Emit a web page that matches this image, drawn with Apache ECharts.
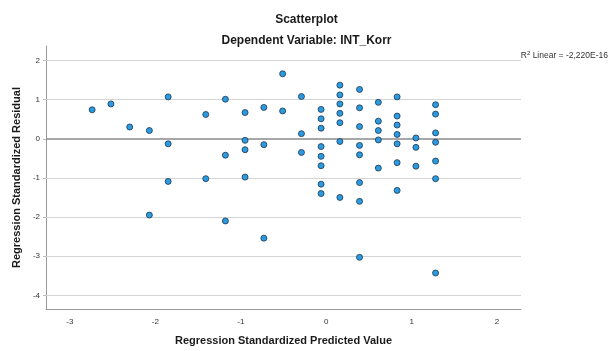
<!DOCTYPE html>
<html>
<head>
<meta charset="utf-8">
<script src="https://cdn.jsdelivr.net/npm/echarts@6/dist/echarts.min.js"></script>
<style>html,body{margin:0;padding:0;background:#fff;}#c{width:613px;height:351px;}</style>
</head>
<body>
<div id="c"></div>
<script>
var titleText = 'Scatterplot';
var subtitleText = 'Dependent Variable: INT_Korr';
var xAxisName = 'Regression Standardized Predicted Value';
var yAxisName = 'Regression Standardized Residual';
var xTicks = [-3, -2, -1, 0, 1, 2];
var yTicks = [-4, -3, -2, -1, 0, 1, 2];

// Predicted value (x) and residual (y), paired
var predicted = [
  -2.74, -2.52, -2.30,
  -2.07, -2.07,
  -1.85, -1.85, -1.85,
  -1.41, -1.41,
  -1.18, -1.18, -1.18,
  -0.95, -0.95, -0.95, -0.95,
  -0.73, -0.73, -0.73,
  -0.51, -0.51,
  -0.29, -0.29, -0.29,
  -0.06, -0.06, -0.06, -0.06, -0.06, -0.06, -0.06, -0.06,
  0.16, 0.16, 0.16, 0.16, 0.16, 0.16, 0.16,
  0.39, 0.39, 0.39, 0.39, 0.39, 0.39, 0.39, 0.39,
  0.61, 0.61, 0.61, 0.61, 0.61,
  0.83, 0.83, 0.83, 0.83, 0.83, 0.83, 0.83,
  1.05, 1.05, 1.05,
  1.28, 1.28, 1.28, 1.28, 1.28, 1.28, 1.28
];
var residual = [
  0.74, 0.89, 0.30,
  0.21, -1.95,
  1.07, -0.13, -1.09,
  0.62, -1.02,
  1.01, -0.42, -2.10,
  0.67, -0.04, -0.28, -0.98,
  0.80, -0.15, -2.54,
  1.66, 0.71,
  1.08, 0.13, -0.35,
  0.75, 0.51, 0.27, -0.20, -0.45, -0.69, -1.16, -1.40,
  1.37, 1.12, 0.89, 0.65, 0.41, -0.07, -1.50,
  1.26, 0.79, 0.31, -0.17, -0.41, -1.12, -1.60, -3.03,
  0.93, 0.45, 0.21, -0.03, -0.75,
  1.07, 0.58, 0.35, 0.11, -0.13, -0.61, -1.32,
  0.02, -0.22, -0.70,
  0.87, 0.63, 0.15, -0.09, -0.57, -1.02, -3.43
];
var r2Label = '-2,220E-16';

var points = predicted.map(function (x, i) { return [x, residual[i]]; });
var font = 'Liberation Sans, Arial, sans-serif';

var chart = echarts.init(document.getElementById('c'), null, {renderer: 'canvas'});
chart.setOption({
  animation: false,
  backgroundColor: '#ffffff',
  title: [
    {text: titleText, left: 'center', top: 9, textStyle: {fontFamily: font, fontSize: 12, fontWeight: 'bold', color: '#1a1a1a'}},
    {text: subtitleText, left: 'center', top: 30, textStyle: {fontFamily: font, fontSize: 12, fontWeight: 'bold', color: '#1a1a1a'}}
  ],
  graphic: [{
    type: 'text', right: 5, top: 50,
    style: {
      rich: {
        b: {fontFamily: font, fontSize: 8.5, fill: '#333'},
        s: {fontFamily: font, fontSize: 6, fill: '#333', verticalAlign: 'top', padding: [0, 0, 5, 0]}
      },
      text: '{b|R}{s|2}{b| Linear = ' + r2Label + '}'
    }
  }],
  grid: {left: 46, top: 46, right: 92, bottom: 40, containLabel: false},
  xAxis: {
    type: 'value', min: -3.28, max: 2.28,
    name: xAxisName, nameLocation: 'middle', nameGap: 26,
    nameTextStyle: {fontFamily: font, fontSize: 11, fontWeight: 'bold', color: '#1a1a1a'},
    axisLine: {show: true, onZero: false, lineStyle: {color: '#999', width: 1}},
    axisTick: {show: false},
    axisLabel: {customValues: xTicks, fontFamily: font, fontSize: 8, color: '#333', margin: 9},
    splitLine: {show: false}
  },
  yAxis: {
    type: 'value', min: -4.35, max: 2.37,
    name: yAxisName, nameLocation: 'middle', nameGap: 20, nameRotate: 90,
    nameTextStyle: {fontFamily: font, fontSize: 11, fontWeight: 'bold', color: '#1a1a1a'},
    axisLine: {show: true, onZero: false, lineStyle: {color: '#999', width: 1}},
    axisTick: {show: true, customValues: yTicks, length: 3, lineStyle: {color: '#bbb'}},
    axisLabel: {customValues: yTicks, fontFamily: font, fontSize: 8, color: '#333', margin: 6},
    splitLine: {show: false}
  },
  series: [{
    type: 'scatter',
    data: points,
    symbol: 'circle',
    symbolSize: 6,
    itemStyle: {color: '#2b9be0', borderColor: '#1c3550', borderWidth: 0.8, opacity: 1},
    z: 5,
    markLine: {
      silent: true, symbol: 'none', label: {show: false}, animation: false,
      data: yTicks.map(function (v) {
        return {yAxis: v, lineStyle: {color: v === 0 ? '#8a8a8a' : '#d4d4d4', width: v === 0 ? 1.6 : 1, type: 'solid'}};
      })
    }
  }]
});
</script>
</body>
</html>
